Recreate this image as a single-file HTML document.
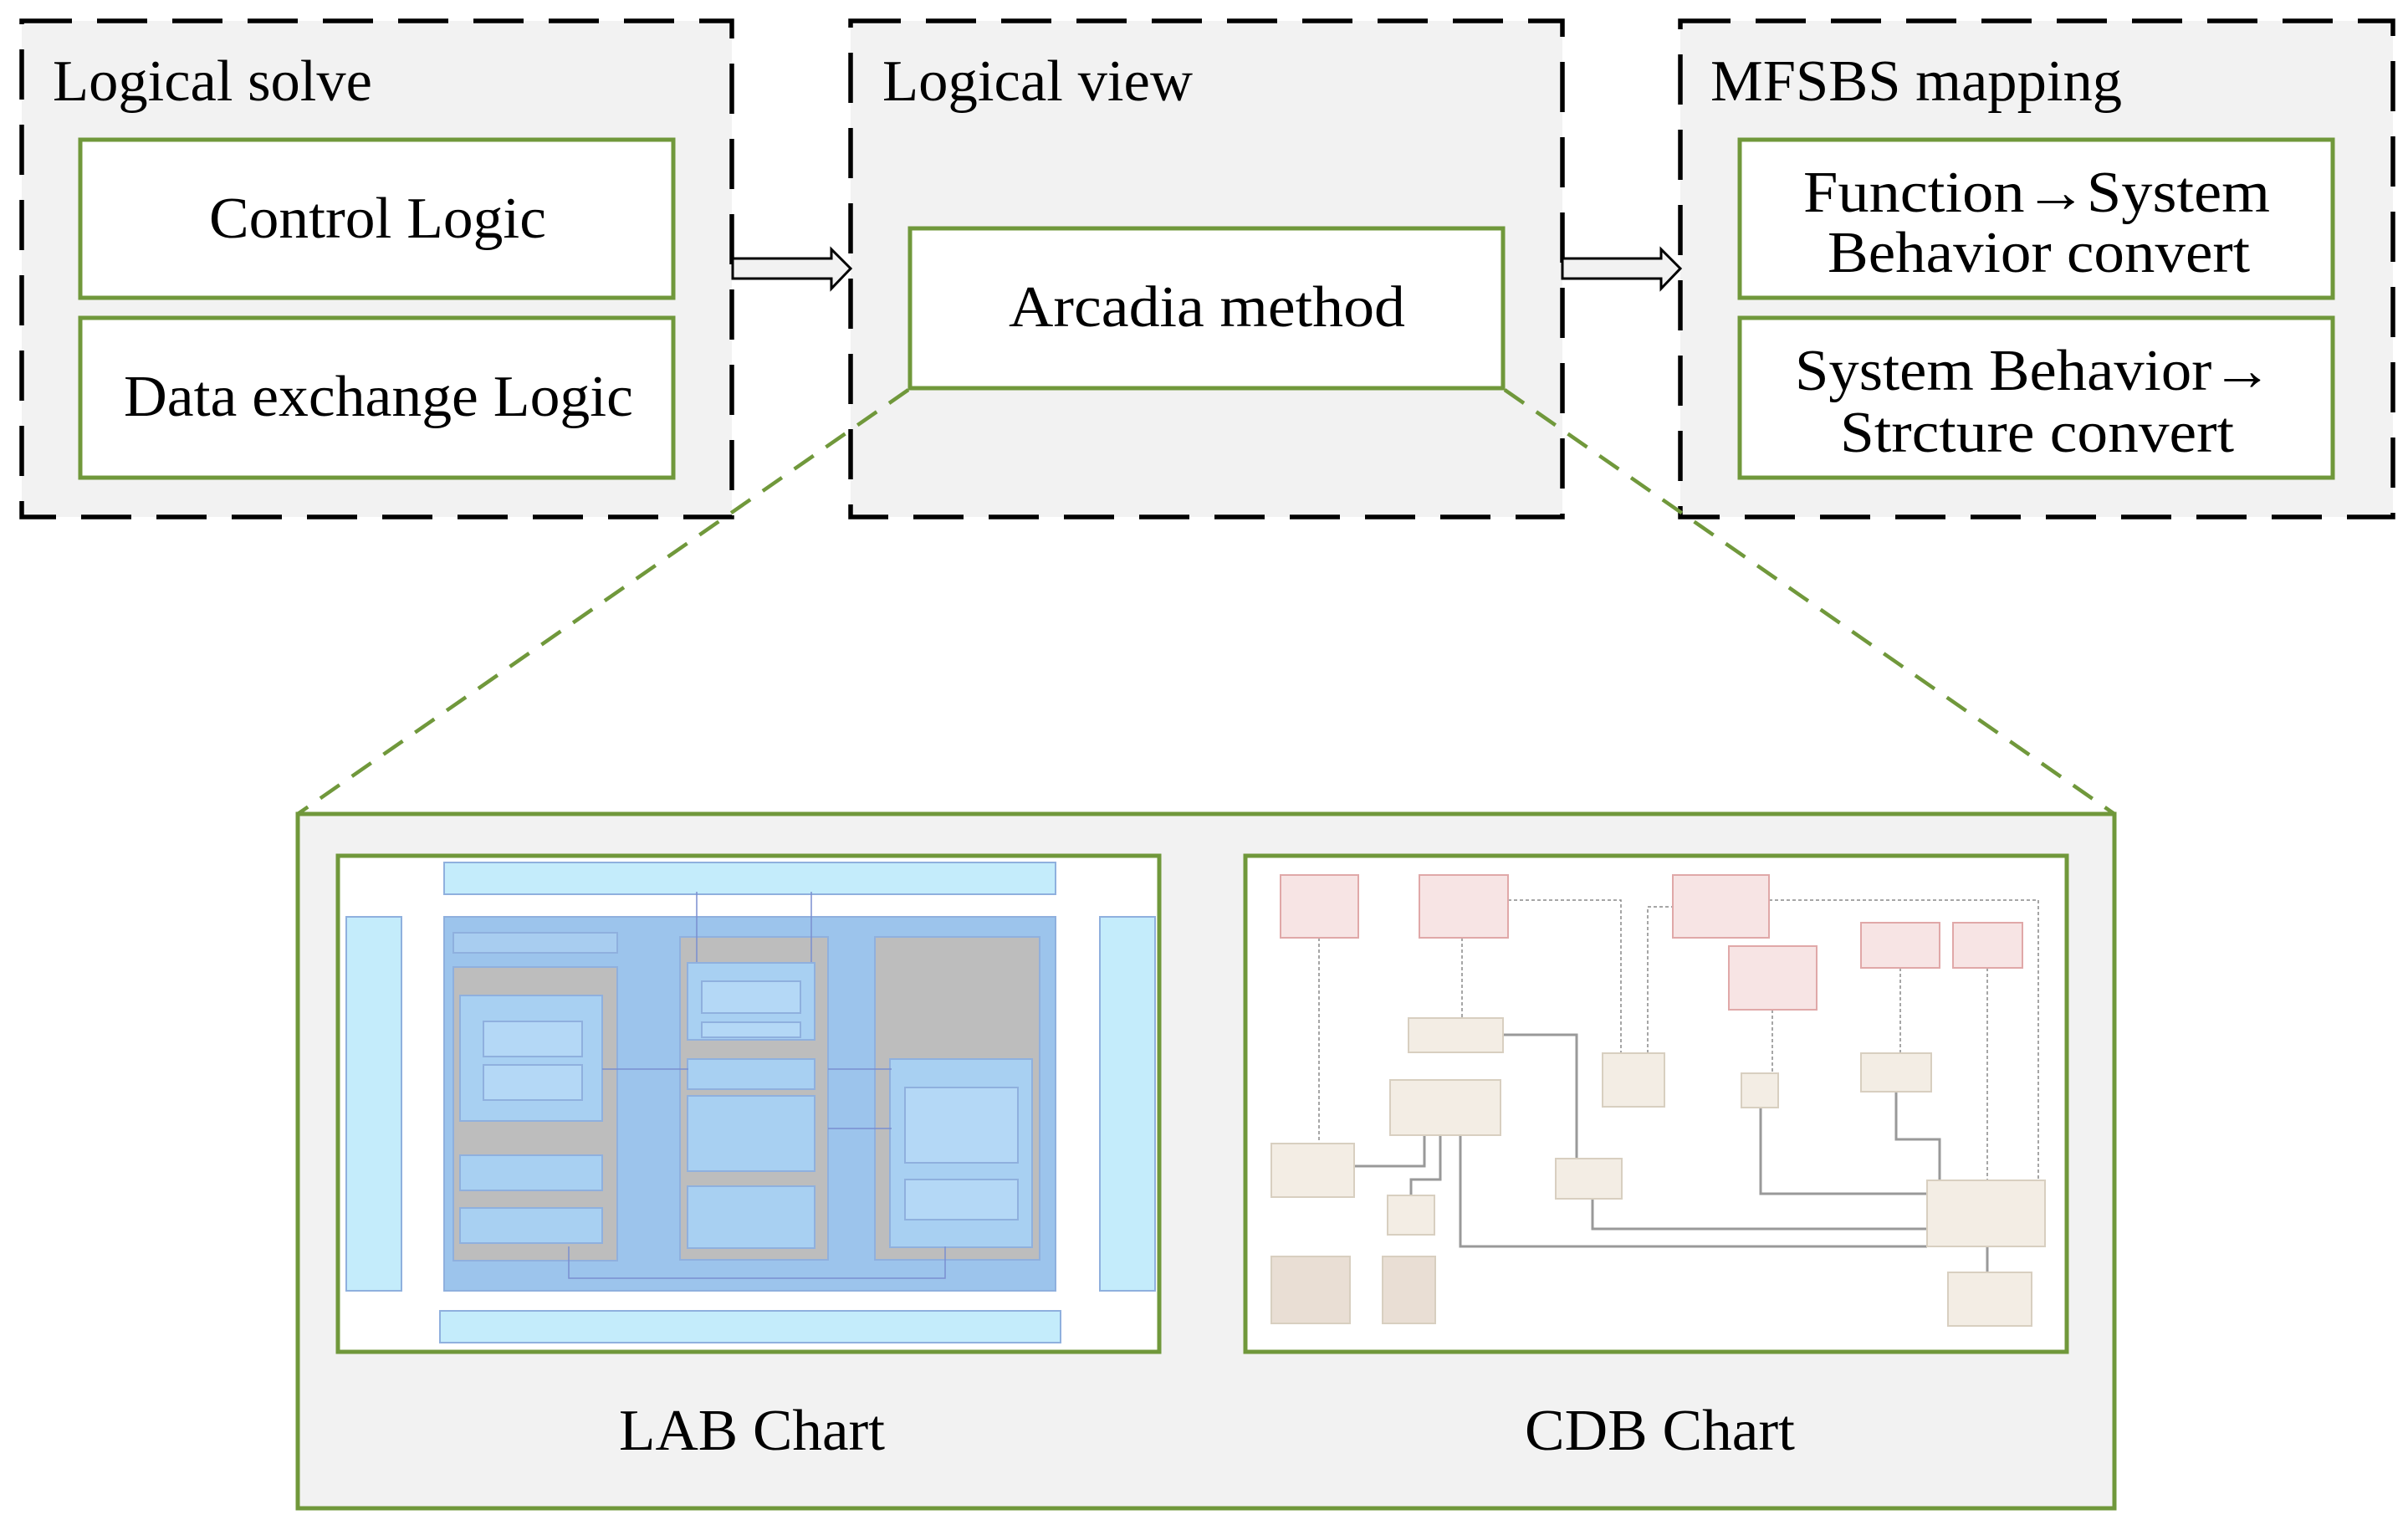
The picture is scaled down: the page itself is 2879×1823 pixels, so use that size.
<!DOCTYPE html>
<html><head><meta charset="utf-8"><style>html,body{margin:0;padding:0;background:#fff}svg{display:block}</style></head>
<body>
<svg width="2879" height="1823" viewBox="0 0 2879 1823" xmlns="http://www.w3.org/2000/svg" font-family="'Liberation Serif', serif">
<rect width="2879" height="1823" fill="#fff"/>
<g fill="#f2f2f2" stroke="#000" stroke-width="5.5" stroke-dasharray="60 30">
<rect x="26" y="25" width="849" height="593"/>
<rect x="1017" y="25" width="851" height="593"/>
<rect x="2009" y="25" width="852" height="593"/>
</g>
<g fill="#fff" stroke="#70983b" stroke-width="5">
<rect x="96" y="167" width="709" height="189"/>
<rect x="96" y="380" width="709" height="191"/>
<rect x="1088" y="273" width="709" height="191"/>
<rect x="2080" y="167" width="709" height="189"/>
<rect x="2080" y="380" width="709" height="191"/>
</g>
<g fill="#f2f2f2" stroke="#000" stroke-width="3">
<path d="M876 309 H994 V298 L1017 321 L994 345 V333 H876 Z"/>
<path d="M1868 309 H1986 V298 L2009 321 L1986 345 V333 H1868 Z"/>
</g>
<g stroke="#70983b" stroke-width="4.5" stroke-dasharray="28 18" fill="none">
<line x1="1086" y1="466" x2="356" y2="973"/>
<line x1="1799" y1="466" x2="2528" y2="973"/>
</g>
<rect x="356" y="973" width="2172" height="830" fill="#f2f2f2" stroke="#70983b" stroke-width="5"/>
<g font-size="70" fill="#000">
<text x="63" y="120" textLength="382" lengthAdjust="spacingAndGlyphs">Logical solve</text>
<text x="1055" y="120" textLength="371" lengthAdjust="spacingAndGlyphs">Logical view</text>
<text x="2045" y="120" textLength="492" lengthAdjust="spacingAndGlyphs">MFSBS mapping</text>
<text x="250" y="284" textLength="403" lengthAdjust="spacingAndGlyphs">Control Logic</text>
<text x="148" y="497" textLength="609" lengthAdjust="spacingAndGlyphs">Data exchange Logic</text>
<text x="1206" y="390" textLength="474" lengthAdjust="spacingAndGlyphs">Arcadia method</text>
<text x="2156" y="253" textLength="558" lengthAdjust="spacingAndGlyphs">Function→System</text>
<text x="2185" y="325" textLength="505" lengthAdjust="spacingAndGlyphs">Behavior convert</text>
<text x="2146" y="466" textLength="571" lengthAdjust="spacingAndGlyphs">System Behavior→</text>
<text x="2200" y="540" textLength="471" lengthAdjust="spacingAndGlyphs">Strcture convert</text>
<text x="740" y="1733" textLength="318" lengthAdjust="spacingAndGlyphs">LAB Chart</text>
<text x="1823" y="1733" textLength="323" lengthAdjust="spacingAndGlyphs">CDB Chart</text>
</g>
<!-- LAB chart -->
<rect x="404" y="1023" width="982" height="593" fill="#fff" stroke="#70983b" stroke-width="5"/>
<g stroke="#8fb0de" stroke-width="2">
<rect x="531" y="1031" width="731" height="38" fill="#c4ecfb"/>
<rect x="414" y="1096" width="66" height="447" fill="#c4ecfb"/>
<rect x="1315" y="1096" width="66" height="447" fill="#c4ecfb"/>
<rect x="526" y="1567" width="742" height="38" fill="#c4ecfb"/>
<rect x="531" y="1096" width="731" height="447" fill="#9cc4ec"/>
<rect x="542" y="1156" width="196" height="351" fill="#bdbdbd"/>
<rect x="813" y="1120" width="177" height="386" fill="#bdbdbd"/>
<rect x="1046" y="1120" width="197" height="386" fill="#bdbdbd"/>
<rect x="542" y="1115" width="196" height="24" fill="#a8cdf0"/>
<rect x="550" y="1190" width="170" height="150" fill="#a8d0f2"/>
<rect x="578" y="1221" width="118" height="42" fill="#b4d8f6"/>
<rect x="578" y="1273" width="118" height="42" fill="#b4d8f6"/>
<rect x="550" y="1381" width="170" height="42" fill="#a8d0f2"/>
<rect x="550" y="1444" width="170" height="42" fill="#a8d0f2"/>
<rect x="822" y="1151" width="152" height="92" fill="#a8d0f2"/>
<rect x="839" y="1173" width="118" height="38" fill="#b4d8f6"/>
<rect x="839" y="1222" width="118" height="18" fill="#b4d8f6"/>
<rect x="822" y="1266" width="152" height="36" fill="#a8d0f2"/>
<rect x="822" y="1310" width="152" height="90" fill="#a8d0f2"/>
<rect x="822" y="1418" width="152" height="74" fill="#a8d0f2"/>
<rect x="1064" y="1266" width="170" height="225" fill="#a8d0f2"/>
<rect x="1082" y="1300" width="135" height="90" fill="#b4d8f6"/>
<rect x="1082" y="1410" width="135" height="48" fill="#b4d8f6"/>
</g>
<g stroke="#7a8ed0" stroke-width="1.5" fill="none">
<path d="M833 1066 V1150 M970 1066 V1150 M720 1278 H823 M990 1278 H1066 M990 1349 H1066 M680 1490 V1528 H1130 V1490"/>
</g>
<!-- CDB chart -->
<rect x="1489" y="1023" width="982" height="593" fill="#fff" stroke="#70983b" stroke-width="5"/>
<g stroke="#888" stroke-width="1.5" fill="none" stroke-dasharray="4 3">
<path d="M1577 1121 V1367 M1748 1121 V1217 M1803 1076 H1938 V1259 M1970 1259 V1084 H2000 M2115 1076 H2437 V1411 M2119 1207 V1283 M2272 1157 V1259 M2376 1157 V1411"/>
</g>
<g stroke="#999" stroke-width="3" fill="none">
<path d="M1797 1237 H1885 V1385 M1703 1357 V1394 H1619 M1722 1357 V1410 H1687 V1429 M1746 1357 V1490 H2304 M1904 1433 V1469 H2304 M2105 1324 V1427 H2304 M2267 1305 V1362 H2319 V1411 M2376 1490 V1521"/>
</g>
<g fill="#f7e4e4" stroke="#e0a8a8" stroke-width="2">
<rect x="1531" y="1046" width="93" height="75"/>
<rect x="1697" y="1046" width="106" height="75"/>
<rect x="2000" y="1046" width="115" height="75"/>
<rect x="2067" y="1131" width="105" height="76"/>
<rect x="2225" y="1103" width="94" height="54"/>
<rect x="2335" y="1103" width="83" height="54"/>
</g>
<g fill="#f3ede4" stroke="#d8cfc0" stroke-width="2">
<rect x="1684" y="1217" width="113" height="41"/>
<rect x="1662" y="1291" width="132" height="66"/>
<rect x="1520" y="1367" width="99" height="64"/>
<rect x="1916" y="1259" width="74" height="64"/>
<rect x="2082" y="1283" width="44" height="41"/>
<rect x="2225" y="1259" width="84" height="46"/>
<rect x="1860" y="1385" width="79" height="48"/>
<rect x="1659" y="1429" width="56" height="47"/>
<rect x="2304" y="1411" width="141" height="79"/>
<rect x="1520" y="1502" width="94" height="80" fill="#e9ded4"/>
<rect x="1653" y="1502" width="63" height="80" fill="#e9ded4"/>
<rect x="2329" y="1521" width="100" height="64"/>
</g>
</svg>
</body></html>
